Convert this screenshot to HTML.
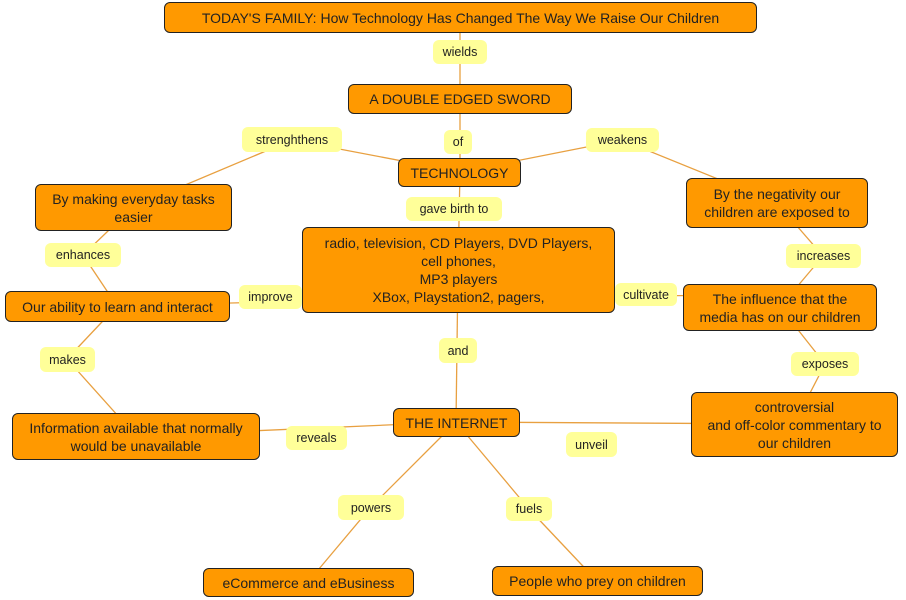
<!DOCTYPE html>
<html><head><meta charset="utf-8"><style>
body{margin:0;width:906px;height:600px;background:#fff;position:relative;overflow:hidden;font-family:"Liberation Sans","DejaVu Sans",sans-serif}
.n{position:absolute;box-sizing:border-box;background:#ff9900;border:1px solid #222;border-radius:6px;color:#222;font-size:14px;line-height:18px;text-align:center;display:flex;align-items:center;justify-content:center}
.l{position:absolute;box-sizing:border-box;background:#ffff99;border-radius:6px;color:#222;font-size:12.5px;text-align:center;display:flex;align-items:center;justify-content:center}
svg{position:absolute;left:0;top:0}
</style></head><body>
<svg width="906" height="600"><g stroke="#e8a040" stroke-width="1.3">
<line x1="460" y1="18" x2="460" y2="99"/>
<line x1="460" y1="99" x2="460" y2="172"/>
<line x1="460" y1="172" x2="292" y2="140"/>
<line x1="292" y1="140" x2="133" y2="207"/>
<line x1="460" y1="172" x2="622" y2="140"/>
<line x1="622" y1="140" x2="777" y2="203"/>
<line x1="460" y1="172" x2="458" y2="270"/>
<line x1="133" y1="207" x2="83" y2="255"/>
<line x1="83" y1="255" x2="117" y2="306"/>
<line x1="777" y1="203" x2="823" y2="256"/>
<line x1="823" y1="256" x2="780" y2="307"/>
<line x1="117" y1="306" x2="458" y2="297"/>
<line x1="458" y1="297" x2="780" y2="295"/>
<line x1="458" y1="270" x2="456" y2="422"/>
<line x1="117" y1="306" x2="67" y2="359"/>
<line x1="67" y1="359" x2="136" y2="436"/>
<line x1="780" y1="307" x2="825" y2="364"/>
<line x1="825" y1="364" x2="794" y2="424"/>
<line x1="456" y1="422" x2="136" y2="436"/>
<line x1="456" y1="422" x2="794" y2="424"/>
<line x1="456" y1="422" x2="371" y2="507"/>
<line x1="371" y1="507" x2="308" y2="582"/>
<line x1="456" y1="422" x2="529" y2="509"/>
<line x1="529" y1="509" x2="597" y2="581"/>
</g></svg>
<div class="n" style="left:164px;top:2px;width:593px;height:31px">TODAY'S FAMILY: How Technology Has Changed The Way We Raise Our Children</div>
<div class="n" style="left:348px;top:84px;width:224px;height:30px">A DOUBLE EDGED SWORD</div>
<div class="n" style="left:398px;top:158px;width:123px;height:29px">TECHNOLOGY</div>
<div class="n" style="left:302px;top:227px;width:313px;height:86px;align-items:flex-start;padding-top:6px">radio, television, CD Players, DVD Players,<br>cell phones,<br>MP3 players<br>XBox, Playstation2, pagers,</div>
<div class="n" style="left:686px;top:178px;width:182px;height:50px">By the negativity our<br>children are exposed to</div>
<div class="n" style="left:35px;top:184px;width:197px;height:47px">By making everyday tasks<br>easier</div>
<div class="n" style="left:5px;top:291px;width:225px;height:31px">Our ability to learn and interact</div>
<div class="n" style="left:683px;top:284px;width:194px;height:47px">The influence that the<br>media has on our children</div>
<div class="n" style="left:12px;top:413px;width:248px;height:47px">Information available that normally<br>would be unavailable</div>
<div class="n" style="left:393px;top:408px;width:127px;height:29px">THE INTERNET</div>
<div class="n" style="left:691px;top:392px;width:207px;height:65px">controversial<br>and off-color commentary to<br>our children</div>
<div class="n" style="left:203px;top:568px;width:211px;height:29px">eCommerce and eBusiness</div>
<div class="n" style="left:492px;top:566px;width:211px;height:30px">People who prey on children</div>
<div class="l" style="left:433px;top:40px;width:54px;height:24px">wields</div>
<div class="l" style="left:444px;top:130px;width:28px;height:24px">of</div>
<div class="l" style="left:242px;top:127px;width:100px;height:25px">strenghthens</div>
<div class="l" style="left:586px;top:128px;width:73px;height:24px">weakens</div>
<div class="l" style="left:406px;top:197px;width:96px;height:24px">gave birth to</div>
<div class="l" style="left:45px;top:243px;width:76px;height:24px">enhances</div>
<div class="l" style="left:786px;top:244px;width:75px;height:24px">increases</div>
<div class="l" style="left:239px;top:285px;width:63px;height:24px">improve</div>
<div class="l" style="left:615px;top:283px;width:62px;height:23px">cultivate</div>
<div class="l" style="left:439px;top:338px;width:38px;height:25px">and</div>
<div class="l" style="left:40px;top:347px;width:55px;height:25px">makes</div>
<div class="l" style="left:791px;top:352px;width:68px;height:24px">exposes</div>
<div class="l" style="left:286px;top:426px;width:61px;height:24px">reveals</div>
<div class="l" style="left:566px;top:432px;width:51px;height:25px">unveil</div>
<div class="l" style="left:338px;top:495px;width:66px;height:25px">powers</div>
<div class="l" style="left:506px;top:497px;width:46px;height:24px">fuels</div>
</body></html>
